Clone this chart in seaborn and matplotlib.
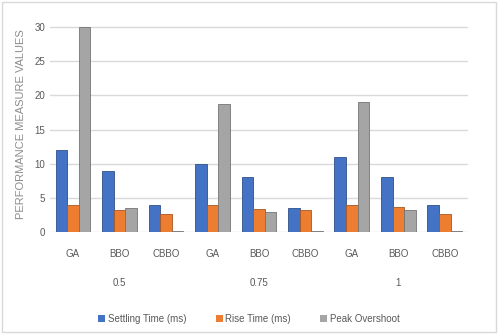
import pandas as pd
import numpy as np
import matplotlib.pyplot as plt
import seaborn as sns
from matplotlib.patches import Rectangle

# data
gains = ['0.5', '0.75', '1']
algorithms = ['GA', 'BBO', 'CBBO']
settling_time = [12, 9, 4, 10, 8, 3.5, 11, 8, 4]
rise_time = [4, 3.2, 2.7, 4, 3.4, 3.2, 4, 3.7, 2.6]
peak_overshoot = [30, 3.5, 0.15, 18.7, 3, 0.15, 19, 3.2, 0.15]
series_names = ['Settling Time (ms)', 'Rise Time (ms)', 'Peak Overshoot']
colors = ['#4472C4', '#ED7D31', '#A5A5A5']

cats = [f'{g}|{a}' for g in gains for a in algorithms]
df = pd.DataFrame({
    'cat': cats * 3,
    'series': np.repeat(series_names, len(cats)),
    'value': settling_time + rise_time + peak_overshoot,
})

sns.set_style('white')
plt.rcParams['font.family'] = ['Liberation Sans', 'DejaVu Sans']

fig = plt.figure(figsize=(4.98, 3.34), dpi=100)
ax = fig.add_axes([0.10, 0.305, 0.84, 0.645])
sns.barplot(data=df, x='cat', y='value', hue='series', order=cats,
            hue_order=series_names, palette=colors, width=0.75, gap=0,
            saturation=1, edgecolor='none', ax=ax, legend=True)

# darker right edge to mimic the 3D look
for cont, c in zip(ax.containers, colors):
    dark = tuple(np.array(plt.matplotlib.colors.to_rgb(c)) * 0.7)
    for p in cont.patches:
        p.set_edgecolor(dark)
        p.set_linewidth(0.6)

ax.set_ylim(0, 31.5)
ax.set_yticks(range(0, 31, 5))
ax.yaxis.grid(True, color='#D9D9D9', lw=1)
ax.set_axisbelow(True)
sns.despine(ax=ax, left=True, bottom=True)
ax.tick_params(axis='both', length=0, colors='#595959', labelsize=7)
ax.set_xticks(range(len(cats)))
ax.set_xticklabels(algorithms * len(gains))
ax.tick_params(axis='x', pad=12)
ax.set_xlabel('')
ax.set_ylabel('PERFORMANCE MEASURE VALUES', color='#8C8C8C', fontsize=8, labelpad=6)

for i, g in enumerate(gains):
    ax.text(i * 3 + 1, -0.237, g, transform=ax.get_xaxis_transform(),
            ha='center', va='center', fontsize=7, color='#595959')

handles, labels = ax.get_legend_handles_labels()
ax.legend(handles, labels, loc='center', bbox_to_anchor=(0.5, 0.045),
          bbox_transform=fig.transFigure, ncol=3, frameon=False, fontsize=7,
          handlelength=0.7, handleheight=0.7, handletextpad=0.3, columnspacing=3,
          labelcolor='#595959')

fig.patches.append(Rectangle((0.005, 0.005), 0.99, 0.99, transform=fig.transFigure,
                             fill=False, edgecolor='#D9D9D9', lw=1))
fig.savefig('out.png', dpi=100)
